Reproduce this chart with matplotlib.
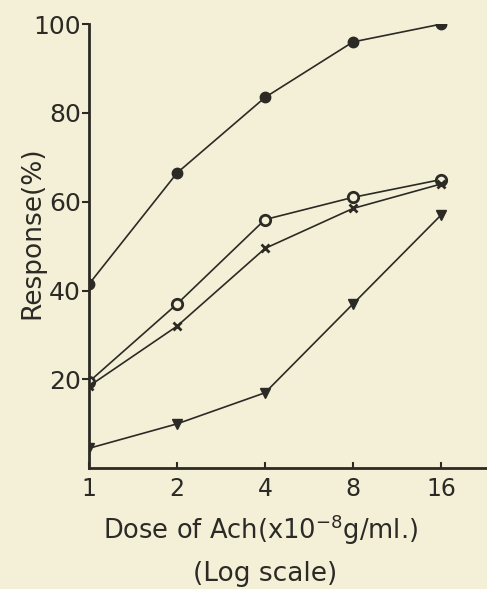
import numpy as np
import matplotlib
matplotlib.use("Agg")
import matplotlib.pyplot as plt

# dose of Ach (x10^-8 g/ml), log scale
doses = [1, 2, 4, 8, 16]
dose_labels = ["1", "2", "4", "8", "16"]

# responses (%)
resp_filled = [41.5, 66.5, 83.5, 96, 100]
resp_open = [19.5, 37, 56, 61, 65]
resp_cross = [18.5, 32, 49.5, 58.5, 64]
resp_low = [4.5, 10, 17, 37, 57]

y_ticks = [20, 40, 60, 80, 100]

ink = "#2b2a24"
paper = "#f4f0d8"

fig = plt.figure(figsize=(4.87, 5.89), dpi=100, facecolor=paper)
ax = fig.add_axes([0.183, 0.205, 0.817, 0.754])
ax.set_facecolor(paper)

line_kw = dict(color=ink, lw=1.2)
ax.plot(doses, resp_filled, marker="o", ms=7.5, mfc=ink, mec=ink, **line_kw)
ax.plot(doses, resp_open, marker="o", ms=7.5, mfc=paper, mec=ink, mew=2, **line_kw)
ax.plot(doses, resp_cross, marker="x", ms=6, mec=ink, mew=2, **line_kw)
ax.plot(doses, resp_low, marker="v", ms=7.5, mfc=ink, mec=ink, **line_kw)

ax.set_xscale("log", base=2)
ax.set_xlim(1, 23)
ax.set_ylim(0, 100)
ax.set_xticks(doses)
ax.set_xticklabels(dose_labels)
ax.minorticks_off()
ax.set_yticks(y_ticks)
ax.set_yticklabels([str(v) for v in y_ticks])

for side in ["top", "right"]:
    ax.spines[side].set_visible(False)
for side in ["left", "bottom"]:
    ax.spines[side].set_color(ink)
    ax.spines[side].set_linewidth(2)

ax.tick_params(axis="y", direction="out", length=5, width=1.5, colors=ink,
               labelsize=18, pad=1)
ax.tick_params(axis="x", direction="in", length=4, width=1.5, colors=ink,
               labelsize=17, pad=6)

ax.set_ylabel("Response(%)", fontsize=19, color=ink)
ax.yaxis.set_label_coords(-0.11, 0.53)
fig.text(0.535, 0.1, r"Dose of Ach(x10$^{-8}$g/ml.)", fontsize=18.5, color=ink,
         ha="center", va="center")
fig.text(0.545, 0.025, "(Log scale)", fontsize=19, color=ink,
         ha="center", va="center")

fig.savefig("out.png", dpi=100, facecolor=paper)
